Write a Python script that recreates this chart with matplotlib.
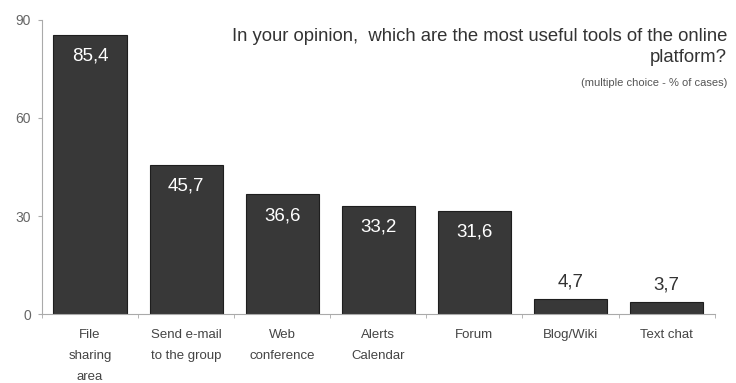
import matplotlib
matplotlib.use("Agg")
import matplotlib.pyplot as plt
import numpy as np

categories = ["File\nsharing\narea", "Send e-mail\nto the group", "Web\nconference",
              "Alerts\nCalendar", "Forum", "Blog/Wiki", "Text chat"]
values = [85.4, 45.7, 36.6, 33.2, 31.6, 4.7, 3.7]
yticks = [0, 30, 60, 90]

plt.rcParams['font.family'] = ['Liberation Sans', 'DejaVu Sans']

fig = plt.figure(figsize=(7.36, 3.83), dpi=100)
ax = fig.add_axes([0.057, 0.180, 0.914, 0.768])
x = np.arange(len(categories))
bars = ax.bar(x, values, width=0.76, color="#383838", edgecolor="#1e1e1e", linewidth=0.8)

ax.set_xlim(-0.5, len(categories) - 0.5)
ax.set_ylim(0, 90)
ax.set_yticks(yticks)
ax.set_yticklabels([str(t) for t in yticks], fontsize=10, color="#666666")
ax.set_xticks(x)
ax.set_xticklabels(categories, fontsize=9.5, color="#444444", linespacing=2.0, va='top')
ax.tick_params(axis='x', length=0, pad=11)
ax.set_xticks(np.arange(len(categories) + 1) - 0.5, minor=True)
ax.tick_params(axis='x', which='minor', length=3, color="#aaaaaa", direction='out')
ax.tick_params(axis='y', length=3, color="#aaaaaa", pad=5)

for s in ['top', 'right']:
    ax.spines[s].set_visible(False)
for s in ['left', 'bottom']:
    ax.spines[s].set_color("#aaaaaa")
    ax.spines[s].set_linewidth(0.8)

for xi, v in zip(x, values):
    lbl = f"{v:.1f}".replace(".", ",")
    if v > 20:
        ax.text(xi, v - 6.5, lbl, ha='center', va='center', color='white', fontsize=13.5)
    else:
        ax.text(xi, v + 5.2, lbl, ha='center', va='center', color='#333333', fontsize=13.5)

fig.text(0.988, 0.878, "In your opinion,  which are the most useful tools of the online\nplatform?",
         ha='right', va='center', fontsize=13.3, color="#333333", linespacing=1.3)
fig.text(0.988, 0.783, "(multiple choice - % of cases)", ha='right', va='center',
         fontsize=8, color="#555555")

fig.savefig("out.png", dpi=100)
